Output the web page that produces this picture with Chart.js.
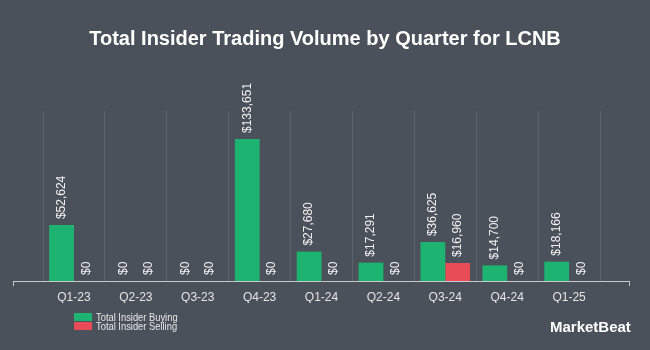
<!DOCTYPE html>
<html>
<head>
<meta charset="utf-8">
<script src="https://cdn.jsdelivr.net/npm/chart.js@4/dist/chart.umd.min.js"></script>
<style>
html,body{margin:0;padding:0;background:#4b515b;}
#wrap{position:relative;width:650px;height:350px;}
</style>
</head>
<body>
<div id="wrap"><canvas id="chart" width="650" height="350"></canvas></div>
<script>
// chart data
const quarters=['Q1-23','Q2-23','Q3-23','Q4-23','Q1-24','Q2-24','Q3-24','Q4-24','Q1-25'];
const buying=[52624,0,0,133651,27680,17291,36625,14700,18166];
const selling=[0,0,0,0,0,0,16960,0,0];
const seriesNames=['Total Insider Buying','Total Insider Selling'];
const titleText='Total Insider Trading Volume by Quarter for LCNB';

const BG='#4b515b';
const GREEN='#1db472';
const RED='#e84d57';
const FONT='"Liberation Sans", Arial, sans-serif';

function money(v){
return '$'+v.toLocaleString('en-US');
}

// title, labels over bars, legend, logo, long axis line
const extras={
id:'extras',
beforeDraw(chart){
const ctx=chart.ctx;
ctx.save();
ctx.fillStyle=BG;
ctx.fillRect(0,0,chart.width,chart.height);
ctx.restore();
},
afterDraw(chart){
const ctx=chart.ctx;
const area=chart.chartArea;
ctx.save();

// title
ctx.fillStyle='#ffffff';
ctx.font='bold 20px '+FONT;
ctx.textAlign='center';
ctx.textBaseline='alphabetic';
ctx.fillText(titleText,chart.width/2,45);

// axis line
ctx.strokeStyle='#c9c9c9';
ctx.lineWidth=1;
ctx.beginPath();
ctx.moveTo(13,area.bottom+0.5);
ctx.lineTo(630,area.bottom+0.5);
ctx.moveTo(13.5,area.bottom);
ctx.lineTo(13.5,area.bottom+5);
ctx.moveTo(629.5,area.bottom);
ctx.lineTo(629.5,area.bottom+5);
ctx.stroke();

// value labels
ctx.font='12px '+FONT;
ctx.fillStyle='#f2f2f2';
ctx.textAlign='left';
ctx.textBaseline='middle';
chart.data.datasets.forEach((ds,i)=>{
const meta=chart.getDatasetMeta(i);
meta.data.forEach((bar,j)=>{
ctx.save();
ctx.translate(bar.x,bar.y-6);
ctx.rotate(-Math.PI/2);
ctx.fillText(money(ds.data[j]),0,0);
ctx.restore();
});
});

// legend
ctx.font='11px '+FONT;
ctx.textBaseline='middle';
chart.data.datasets.forEach((ds,i)=>{
const y=313+i*9;
ctx.fillStyle=ds.backgroundColor;
ctx.fillRect(74,y,18,8);
ctx.fillStyle='#e8e8e8';
ctx.save();
ctx.translate(96,y+4.5);
ctx.scale(0.85,1);
ctx.fillText(ds.label,0,0);
ctx.restore();
});

// logo
ctx.font='bold 15px '+FONT;
ctx.fillStyle='#ffffff';
ctx.textAlign='left';
ctx.fillText('MarketBeat',550,328);

ctx.restore();
}
};

new Chart(document.getElementById('chart'),{
type:'bar',
data:{
labels:quarters,
datasets:[
{label:seriesNames[0],data:buying,backgroundColor:GREEN},
{label:seriesNames[1],data:selling,backgroundColor:RED}
]
},
options:{
responsive:false,
animation:false,
layout:{padding:{left:43,right:50,top:111,bottom:47}},
plugins:{legend:{display:false},title:{display:false},tooltip:{enabled:false}},
datasets:{bar:{categoryPercentage:0.8,barPercentage:1.0}},
scales:{
x:{
grid:{color:'#5d636d',drawTicks:false,offset:true},
border:{display:false},
ticks:{color:'#e4e4e4',font:{family:FONT,size:12},padding:9},
afterFit(s){s.height=22;}
},
y:{display:false,min:0,max:160000}
}
},
plugins:[extras]
});
</script>
</body>
</html>
